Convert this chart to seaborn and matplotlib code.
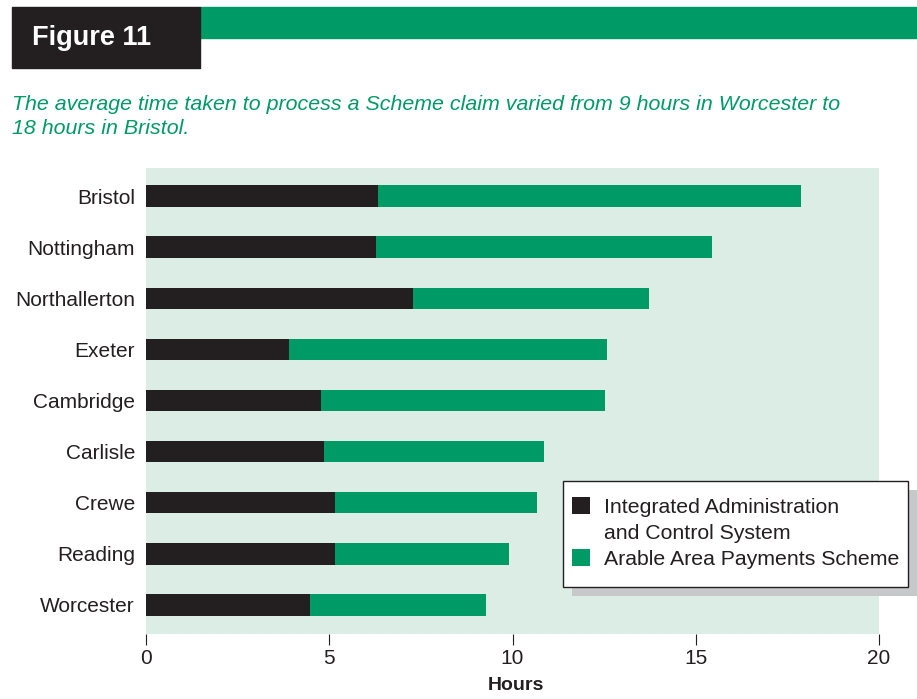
import matplotlib
matplotlib.use("Agg")
import matplotlib.pyplot as plt
from matplotlib.patches import Rectangle, Patch
import seaborn as sns
import pandas as pd

# Average hours to process a claim, by regional office
offices = ["Bristol", "Nottingham", "Northallerton", "Exeter", "Cambridge",
           "Carlisle", "Crewe", "Reading", "Worcester"]
iacs_hours = [6.33, 6.28, 7.29, 3.90, 4.77, 4.86, 5.16, 5.16, 4.47]
aaps_hours = [11.54, 9.16, 6.43, 8.68, 7.75, 6.00, 5.51, 4.74, 4.81]
x_ticks = [0, 5, 10, 15, 20]

iacs_label = ["Integrated Administration", "and Control System"]
aaps_label = "Arable Area Payments Scheme"

BLACK = "#231F20"
GREEN = "#009A66"
PANEL = "#DCEDE6"

df = pd.DataFrame({"office": offices, "iacs": iacs_hours, "aaps": aaps_hours})
df["total"] = df["iacs"] + df["aaps"]

sns.set_theme(style="white")
plt.rcParams["font.family"] = ["Liberation Sans", "DejaVu Sans"]

W, H = 917, 699
fig = plt.figure(figsize=(W / 100, H / 100), dpi=100)

def fx(px):
    return px / W

def fy(py):
    return 1 - py / H

ax = fig.add_axes([fx(146), fy(634), fx(879) - fx(146), fy(168) - fy(634)])
ax.set_facecolor(PANEL)

# Stacked bars: full total in green, IACS share in black on top
sns.barplot(data=df, y="office", x="total", color=GREEN, orient="h",
            width=0.42, saturation=1, ax=ax, linewidth=0)
sns.barplot(data=df, y="office", x="iacs", color=BLACK, orient="h",
            width=0.42, saturation=1, ax=ax, linewidth=0)

ax.set_xlim(0, 20)
ax.set_ylim(len(offices) - 1 + 0.57, -0.55)
ax.set_xticks(x_ticks)
ax.set_xticklabels([str(t) for t in x_ticks], fontsize=15, color="#231F20")
ax.tick_params(axis="x", bottom=True, length=8, width=0.8, color="#231F20",
               pad=3, direction="out")
ax.tick_params(axis="y", left=False, length=0, pad=8)
for lbl in ax.get_yticklabels():
    lbl.set_fontsize(15)
    lbl.set_color("#231F20")
for s in ax.spines.values():
    s.set_visible(False)
ax.set_ylabel("")
ax.set_xlabel("")
fig.text(fx(516), fy(686), "Hours", fontsize=14, fontweight="bold",
         color="#231F20", ha="center", va="center")

# Header band
fig.patches.append(Rectangle((fx(200), fy(38)), fx(917) - fx(200), fy(7) - fy(38),
                             transform=fig.transFigure, color=GREEN, zorder=0))
fig.patches.append(Rectangle((fx(12), fy(68)), fx(200) - fx(12), fy(7) - fy(68),
                             transform=fig.transFigure, color=BLACK, zorder=1))
fig.text(fx(32), fy(38), "Figure 11", color="white", fontsize=19.5,
         fontweight="bold", va="center", ha="left")

fig.text(fx(12), fy(105), "The average time taken to process a Scheme claim varied "
         "from 9 hours in Worcester to", color=GREEN, fontsize=15.4,
         style="italic", va="center", ha="left")
fig.text(fx(12), fy(129), "18 hours in Bristol.", color=GREEN, fontsize=15.4,
         style="italic", va="center", ha="left")

# Legend box with offset drop shadow
box_x0, box_x1, box_y0, box_y1 = 563, 908, 481, 587
fig.patches.append(Rectangle((fx(box_x0 + 9), fy(box_y1 + 9)),
                             fx(box_x1) - fx(box_x0), fy(box_y0) - fy(box_y1),
                             transform=fig.transFigure, facecolor="#C7C8CA",
                             edgecolor="none", zorder=4))
fig.patches.append(Rectangle((fx(box_x0), fy(box_y1)),
                             fx(box_x1) - fx(box_x0), fy(box_y0) - fy(box_y1),
                             transform=fig.transFigure, facecolor="white",
                             edgecolor="#231F20", linewidth=1.0, zorder=5))

handles = [Patch(facecolor=BLACK, edgecolor="none"),
           Patch(facecolor="none", edgecolor="none"),
           Patch(facecolor=GREEN, edgecolor="none")]
labels = [iacs_label[0], iacs_label[1], aaps_label]
leg = fig.legend(handles, labels, loc="upper left",
                 bbox_to_anchor=(fx(572), fy(497)), bbox_transform=fig.transFigure,
                 fontsize=15.3, frameon=False, handlelength=0.85,
                 handleheight=0.85, handletextpad=0.66, borderpad=0,
                 labelspacing=0.3, borderaxespad=0)
for t in leg.get_texts():
    t.set_color("#231F20")
leg.set_zorder(6)

fig.savefig("out.png", dpi=100)
